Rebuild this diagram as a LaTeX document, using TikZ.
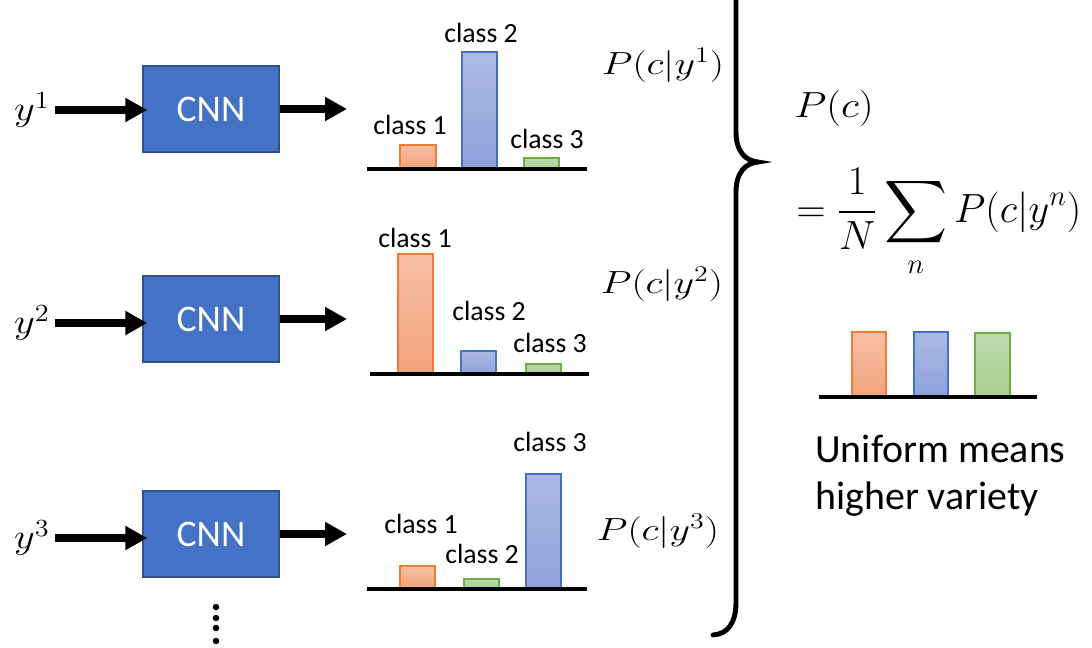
\RequirePackage{fix-cm}
\documentclass[tikz,border=0pt]{standalone}
\usepackage{fontspec}
\setmainfont{Carlito}
\usepackage{amsmath}
\usepackage{graphicx}
\usetikzlibrary{arrows.meta}
\definecolor{cnnblue}{HTML}{4472C4}
\definecolor{cnnborder}{HTML}{2F528F}
\definecolor{orgE}{HTML}{ED7D31}
\definecolor{orgT}{HTML}{F7BFA4}
\definecolor{orgB}{HTML}{F2A27C}
\definecolor{bluE}{HTML}{4472C4}
\definecolor{bluT}{HTML}{ABB9E2}
\definecolor{bluB}{HTML}{8EA2DA}
\definecolor{grnE}{HTML}{70AD47}
\definecolor{grnT}{HTML}{BCD9AC}
\definecolor{grnB}{HTML}{A8CF8E}
\newcommand{\wmath}[2][1.3]{\scalebox{#1}[1]{$#2$}}
\begin{document}
\begin{tikzpicture}[x=0.02cm,y=-0.02cm,
  cnn/.style={draw=cnnborder, line width=0.8pt, fill=cnnblue, minimum width=2.72cm, minimum height=1.72cm, inner sep=0pt, text=white, font=\fontsize{21.4}{24}\selectfont},
  flow/.style={line width=4.2pt, -{Triangle[length=12.5pt,width=13pt]}},
  axisline/.style={line width=2.8pt},
  cls/.style={inner sep=0pt, font=\fontsize{15.8}{18}\selectfont},
  mlab/.style={inner sep=0pt, font=\fontsize{18.2}{21}\selectfont},
  ylab/.style={inner sep=0pt, font=\fontsize{20}{23}\selectfont},
  obar/.style={draw=orgE, line width=0.7pt, top color=orgT, bottom color=orgB},
  bbar/.style={draw=bluE, line width=0.7pt, top color=bluT, bottom color=bluB},
  gbar/.style={draw=grnE, line width=0.7pt, top color=grnT, bottom color=grnB},
  brace/.style={line width=2.8pt, line cap=round},
  dot/.style={circle, fill=black, inner sep=0pt, minimum size=6.5*0.02cm}
]
\useasboundingbox (0,0) rectangle (1092,647);

% ---- row 1
\node[ylab] (y1) at (32,110) {\wmath[1.15]{y^1}};
\node[cnn] (cnn1) at (211,109) {CNN};
\coordinate (o1) at (347,109);
\draw[flow] ([xshift=0.1cm]y1.east) -- ([xshift=0.1cm]y1.east -| cnn1.west);
\draw[flow] (cnn1.east) -- (o1);

% ---- row 2
\node[ylab] (y2) at (32,323) {\wmath[1.15]{y^2}};
\node[cnn] (cnn2) at (211,319) {CNN};
\coordinate (o2) at (347,319);
\draw[flow] ([xshift=0.1cm]y2.east) -- ([xshift=0.1cm]y2.east -| cnn2.west);
\draw[flow] (cnn2.east) -- (o2);

% ---- row 3
\node[ylab] (y3) at (32,538) {\wmath[1.15]{y^3}};
\node[cnn] (cnn3) at (211,534) {CNN};
\coordinate (o3) at (347,534);
\draw[flow] ([xshift=0.1cm]y3.east) -- ([xshift=0.1cm]y3.east -| cnn3.west);
\draw[flow] (cnn3.east) -- (o3);

% vertical dots
\node[dot] (d1) at (216,607) {};
\node[dot] (d2) at (216,618) {};
\node[dot] (d3) at (216,628) {};
\node[dot] (d4) at (216,641) {};

% ---- chart 1
\draw[obar] (400,169) rectangle (436,145);
\draw[bbar] (462,169) rectangle (497,52);
\draw[gbar] (524,169) rectangle (559,158);
\draw[axisline] (367,169) -- (587,169);
\node[cls] (c11) at (410,125) {class 1};
\node[cls] (c12) at (481,33) {class 2};
\node[cls] (c13) at (547,139) {class 3};
\node[mlab] (p1) at (663,65) {\wmath[1.25]{P(c|y^1)}};

% ---- chart 2
\draw[obar] (398,374) rectangle (433,254);
\draw[bbar] (461,374) rectangle (496,351);
\draw[gbar] (526,374) rectangle (561,364);
\draw[axisline] (370,374) -- (589,374);
\node[cls] (c21) at (415,238) {class 1};
\node[cls] (c22) at (489,311) {class 2};
\node[cls] (c23) at (550,343) {class 3};
\node[mlab] (p2) at (662,284) {\wmath[1.25]{P(c|y^2)}};

% ---- chart 3
\draw[obar] (400,589) rectangle (435,566);
\draw[gbar] (464,589) rectangle (499,579);
\draw[bbar] (526,589) rectangle (561,474);
\draw[axisline] (367,589) -- (587,589);
\node[cls] (c31) at (421,524) {class 1};
\node[cls] (c32) at (482,554) {class 2};
\node[cls] (c33) at (550,442) {class 3};
\node[mlab] (p3) at (658,531) {\wmath[1.25]{P(c|y^3)}};

% ---- brace
\draw[brace] (736,-20) -- (736,132)
  .. controls (736,152) and (746,161) .. (758,162)
  .. controls (746,163) and (736,172) .. (736,192)
  -- (736,602)
  .. controls (736,624) and (727,634) .. (713,635);

% ---- right side
\node[inner sep=0pt, font=\fontsize{20.7}{24}\selectfont] (pc) at (834,108) {\wmath[1.15]{P(c)}};
\node[inner sep=0pt, anchor=base west, font=\fontsize{23.2}{27}\selectfont] (eq) at (796,222)
  {$=\dfrac{1}{N}\displaystyle\sum_n P(c|y^n)$};

\draw[obar] (852,397) rectangle (886,332);
\draw[bbar] (914,397) rectangle (948,332);
\draw[gbar] (975,397) rectangle (1010,333);
\draw[axisline] (819,397) -- (1037,397);

\node[inner sep=0pt, anchor=base west, align=left, font=\fontsize{22.7}{26.6}\selectfont] (uni) at (815,509)
  {Uniform means\\higher variety};
\end{tikzpicture}
\end{document}
